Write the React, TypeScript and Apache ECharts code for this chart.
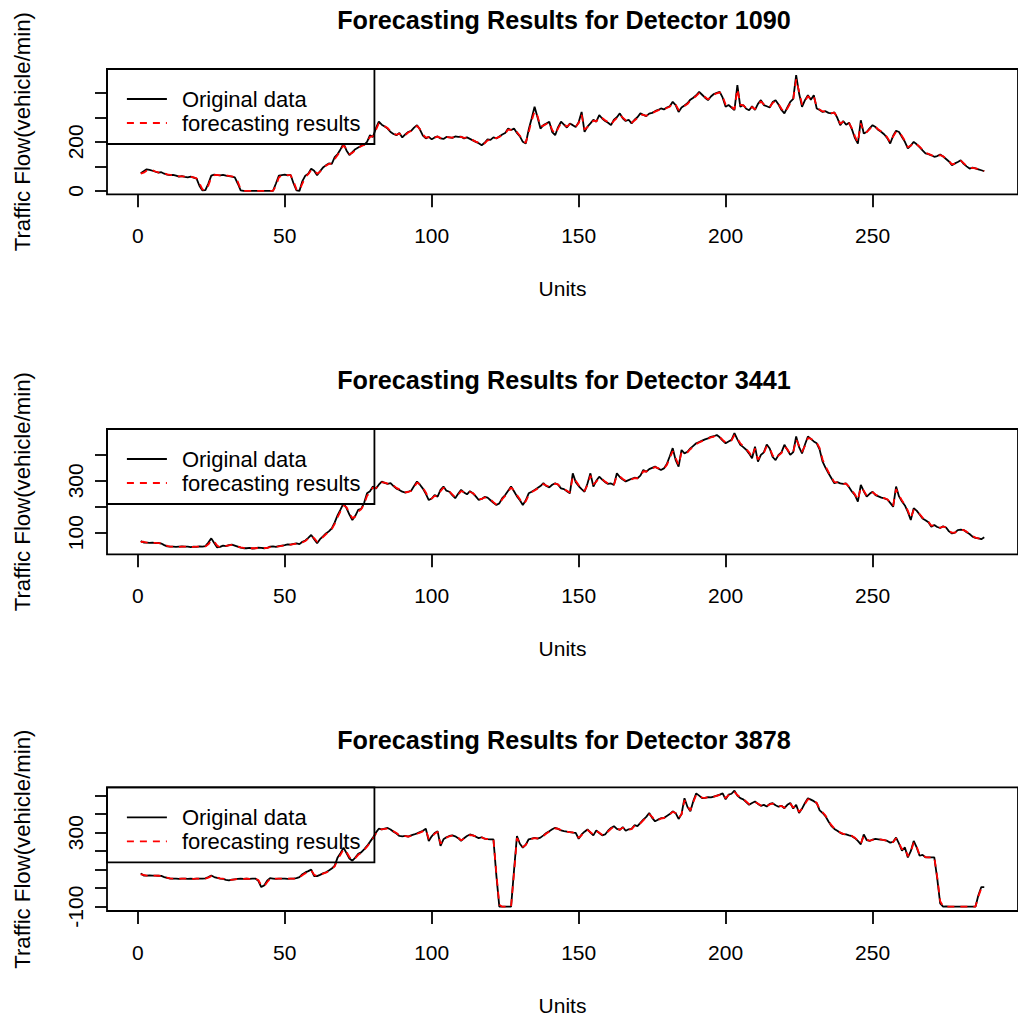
import React, { useEffect, useRef } from 'react';
import * as echarts from 'echarts';

const detectorIds = ['1090', '3441', '3878'];
const xTickValues = [0, 50, 100, 150, 200, 250];
const yTickValues = [
  [0, 100, 200, 300, 400],
  [100, 200, 300, 400],
  [-100, 0, 100, 200, 300, 400, 500],
];
const yLabelValues = [
  [0, 200],
  [100, 300],
  [-100, 300],
];

const original1090 = [
  72, 80, 88, 86, 82, 78, 74, 76, 70, 66, 64, 65,
  62, 58, 60, 57, 55, 58, 54, 50, 20, 2, 3, 30,
  62, 66, 64, 63, 65, 62, 60, 58, 55, 30, 2, 0,
  0, 0, 0, 0, 0, 0, 0, 0, 0, 0, 30, 62,
  64, 66, 63, 65, 30, 2, 0, 40, 62, 70, 90, 82,
  64, 80, 95, 104, 112, 110, 138, 150, 170, 193, 165, 146,
  158, 170, 177, 184, 188, 200, 227, 220, 255, 282, 270, 262,
  254, 240, 232, 227, 236, 218, 230, 240, 245, 258, 268, 250,
  225, 214, 220, 210, 218, 222, 214, 212, 220, 218, 216, 222,
  220, 221, 214, 218, 212, 206, 200, 194, 186, 196, 210, 208,
  218, 214, 222, 230, 236, 254, 248, 254, 236, 222, 200, 193,
  250, 295, 343, 300, 254, 268, 275, 282, 240, 227, 260, 282,
  270, 258, 275, 268, 260, 280, 322, 241, 262, 275, 290, 282,
  309, 295, 285, 278, 268, 290, 300, 316, 296, 285, 290, 275,
  290, 300, 316, 310, 305, 315, 318, 325, 330, 336, 332, 340,
  345, 363, 350, 322, 340, 348, 357, 372, 380, 390, 404, 392,
  380, 370, 385, 395, 400, 404, 380, 343, 350, 340, 329, 431,
  343, 350, 335, 329, 345, 330, 355, 370, 350, 345, 340, 362,
  370, 352, 330, 316, 340, 363, 375, 472, 397, 343, 370, 390,
  372, 390, 336, 330, 322, 325, 318, 316, 320, 298, 268, 285,
  270, 278, 250, 215, 193, 288, 234, 240, 255, 268, 260, 248,
  240, 230, 215, 193, 225, 245, 240, 220, 200, 173, 185, 200,
  190, 178, 165, 153, 150, 145, 139, 142, 148, 140, 130, 120,
  105, 112, 118, 125, 110, 100, 91, 95, 92, 88, 84, 80,
];
const forecast1090 = [
  70, 74, 82, 86, 84, 79, 75, 75, 72, 67, 65, 64,
  63, 59, 59, 58, 56, 57, 55, 51, 30, 6, 2, 22,
  55, 64, 65, 63, 64, 63, 61, 59, 56, 38, 6, 0,
  0, 0, 0, 0, 0, 0, 0, 0, 0, 0, 20, 55,
  63, 65, 64, 64, 38, 6, 1, 30, 56, 68, 85, 84,
  70, 78, 92, 102, 110, 111, 130, 146, 165, 186, 170, 150,
  155, 166, 175, 182, 187, 197, 220, 222, 248, 275, 272, 264,
  256, 243, 234, 229, 234, 222, 228, 238, 244, 255, 265, 252,
  230, 217, 219, 212, 217, 221, 216, 213, 219, 218, 217, 221,
  220, 220, 216, 217, 213, 207, 201, 196, 189, 194, 206, 208,
  216, 215, 220, 228, 234, 250, 249, 252, 240, 225, 205, 196,
  240, 285, 325, 305, 262, 266, 273, 280, 248, 232, 255, 276,
  272, 262, 272, 268, 262, 276, 310, 250, 260, 272, 286, 283,
  302, 297, 288, 280, 271, 286, 297, 310, 299, 288, 289, 278,
  287, 297, 311, 310, 306, 313, 317, 323, 328, 334, 333, 338,
  343, 358, 352, 330, 338, 346, 354, 368, 377, 387, 399, 393,
  383, 373, 383, 392, 398, 402, 385, 352, 350, 342, 333, 415,
  352, 349, 338, 332, 342, 333, 351, 365, 353, 346, 342, 358,
  366, 354, 335, 320, 336, 357, 372, 455, 405, 352, 366, 386,
  375, 386, 342, 332, 324, 324, 319, 317, 319, 302, 274, 282,
  272, 276, 255, 222, 198, 275, 240, 240, 252, 265, 261, 250,
  242, 232, 218, 198, 222, 241, 240, 224, 204, 178, 184, 197,
  191, 180, 168, 156, 151, 146, 141, 142, 146, 141, 132, 122,
  108, 111, 116, 123, 113, 102, 94, 94, 92, 89, 85, 81,
];

const original3441 = [
  68, 62, 62, 61, 62, 60, 61, 58, 52, 47, 46, 46,
  45, 46, 47, 46, 46, 44, 46, 45, 47, 46, 48, 62,
  78, 60, 43, 45, 50, 48, 52, 54, 50, 46, 42, 40,
  40, 41, 39, 40, 42, 41, 40, 41, 46, 47, 45, 48,
  50, 52, 55, 54, 57, 59, 56, 65, 70, 80, 91, 75,
  59, 75, 86, 97, 105, 117, 140, 168, 190, 213, 195, 170,
  149, 165, 188, 192, 215, 252, 260, 278, 270, 285, 297, 292,
  288, 291, 280, 270, 265, 258, 255, 258, 262, 280, 297, 285,
  270, 250, 226, 232, 245, 239, 265, 278, 262, 258, 245, 233,
  250, 265, 255, 248, 260, 252, 240, 226, 230, 238, 235, 225,
  215, 207, 213, 233, 245, 262, 278, 260, 240, 225, 207, 225,
  252, 258, 265, 272, 280, 291, 280, 275, 285, 291, 285, 271,
  268, 260, 252, 329, 295, 280, 268, 258, 290, 329, 278, 300,
  316, 305, 295, 288, 290, 284, 329, 315, 305, 298, 303, 308,
  312, 310, 320, 342, 335, 345, 350, 355, 348, 342, 348, 365,
  395, 426, 380, 355, 419, 406, 412, 425, 435, 445, 450, 455,
  460, 464, 470, 472, 477, 468, 455, 445, 452, 458, 484, 460,
  439, 430, 420, 405, 387, 432, 374, 400, 410, 440, 425, 392,
  380, 400, 410, 439, 420, 400, 411, 471, 430, 406, 440, 471,
  462, 452, 445, 420, 374, 350, 329, 310, 291, 295, 290, 288,
  290, 275, 258, 245, 220, 284, 260, 239, 250, 258, 245, 240,
  235, 232, 228, 215, 200, 278, 240, 220, 205, 180, 149, 194,
  185, 170, 155, 148, 140, 123, 130, 122, 118, 125, 120, 105,
  97, 100, 110, 112, 110, 102, 95, 85, 80, 78, 75, 82,
];
const forecast3441 = [
  64, 65, 62, 61, 61, 61, 60, 59, 54, 49, 46, 46,
  46, 45, 46, 46, 46, 45, 45, 46, 46, 46, 47, 55,
  70, 66, 50, 44, 48, 49, 51, 53, 51, 47, 43, 41,
  40, 40, 40, 40, 41, 41, 41, 41, 44, 46, 46, 47,
  49, 51, 54, 54, 56, 58, 57, 62, 68, 77, 87, 79,
  65, 72, 83, 94, 103, 114, 134, 160, 183, 205, 198, 177,
  156, 162, 182, 190, 210, 242, 256, 274, 272, 282, 294, 293,
  289, 290, 282, 273, 267, 260, 256, 257, 261, 276, 293, 287,
  274, 255, 232, 231, 242, 240, 260, 274, 265, 259, 248, 236,
  246, 261, 256, 250, 257, 253, 243, 230, 230, 236, 235, 228,
  218, 209, 212, 229, 242, 258, 274, 263, 245, 229, 211, 221,
  245, 256, 263, 270, 278, 288, 282, 277, 283, 289, 286, 274,
  269, 262, 255, 315, 300, 284, 271, 261, 284, 320, 286, 297,
  311, 307, 297, 290, 290, 285, 320, 317, 307, 300, 302, 306,
  310, 310, 318, 337, 336, 343, 348, 353, 349, 344, 347, 361,
  388, 415, 388, 362, 410, 406, 410, 422, 432, 442, 448, 453,
  458, 462, 468, 471, 475, 469, 458, 448, 451, 456, 477, 463,
  445, 433, 423, 410, 392, 425, 382, 398, 408, 434, 426, 398,
  385, 397, 407, 432, 422, 404, 410, 460, 436, 412, 435, 465,
  463, 454, 447, 426, 382, 356, 334, 314, 295, 294, 290, 288,
  289, 278, 262, 248, 226, 275, 262, 243, 248, 256, 247, 241,
  236, 233, 229, 218, 204, 268, 245, 224, 208, 185, 156, 188,
  185, 172, 158, 150, 142, 127, 129, 123, 119, 123, 120, 108,
  100, 100, 108, 111, 110, 104, 97, 87, 81, 78, 76, 80,
];

const original3878 = [
  80, 68, 68, 69, 68, 68, 67, 66, 60, 55, 52, 51,
  51, 50, 51, 52, 50, 51, 50, 51, 52, 51, 53, 60,
  68, 60, 55, 52, 50, 45, 42, 46, 48, 50, 51, 50,
  51, 50, 51, 52, 40, 6, 15, 40, 54, 52, 50, 51,
  51, 52, 50, 51, 52, 54, 60, 75, 85, 92, 100, 65,
  65, 72, 80, 86, 95, 106, 122, 166, 190, 219, 190, 160,
  148, 165, 185, 193, 210, 228, 250, 273, 300, 321, 318, 322,
  325, 317, 305, 295, 282, 280, 282, 278, 285, 290, 296, 303,
  310, 321, 255, 280, 298, 308, 228, 264, 275, 282, 285, 280,
  270, 255, 270, 282, 290, 285, 278, 270, 275, 267, 265, 264,
  264, 68, -100, -100, -100, -100, -100, 95, 281, 240, 219, 235,
  264, 268, 272, 268, 273, 285, 298, 308, 318, 326, 320, 312,
  308, 305, 303, 300, 299, 267, 290, 305, 317, 300, 285, 312,
  298, 285, 290, 310, 325, 335, 320, 315, 330, 310, 318, 320,
  340, 335, 353, 370, 385, 406, 380, 361, 370, 378, 379, 390,
  400, 415, 405, 374, 400, 486, 440, 415, 470, 512, 500, 486,
  488, 492, 490, 495, 500, 505, 512, 480, 505, 510, 527, 500,
  486, 480, 465, 450, 460, 468, 455, 445, 450, 441, 455, 459,
  448, 440, 445, 432, 450, 460, 430, 450, 406, 430, 460, 486,
  478, 470, 459, 420, 406, 388, 360, 335, 320, 310, 299, 292,
  290, 285, 281, 270, 255, 237, 290, 260, 255, 262, 266, 264,
  262, 260, 255, 246, 250, 273, 240, 202, 220, 166, 200, 255,
  220, 175, 180, 166, 166, 166, 166, 51, -82, -100, -98, -100,
  -100, -100, -100, -100, -100, -100, -100, -100, -100, -38, 6, 6,
];
const forecast3878 = [
  75, 72, 68, 68, 68, 68, 67, 66, 62, 57, 53, 51,
  51, 51, 51, 51, 51, 51, 50, 51, 51, 51, 52, 57,
  65, 63, 57, 53, 51, 47, 44, 45, 47, 49, 50, 50,
  51, 50, 51, 51, 44, 15, 10, 32, 50, 53, 51, 51,
  51, 51, 51, 51, 51, 53, 58, 70, 80, 88, 96, 72,
  66, 70, 78, 84, 92, 103, 118, 155, 182, 210, 196, 168,
  152, 162, 180, 190, 206, 224, 245, 268, 294, 316, 318, 320,
  322, 318, 308, 298, 286, 281, 281, 279, 283, 288, 294, 300,
  307, 317, 265, 276, 294, 305, 240, 258, 272, 280, 284, 281,
  273, 259, 267, 279, 287, 285, 279, 272, 274, 268, 265, 264,
  264, 80, -90, -100, -100, -100, -100, 80, 270, 245, 222, 233,
  258, 266, 270, 269, 272, 282, 295, 305, 315, 323, 321, 314,
  309, 306, 303, 301, 299, 272, 286, 302, 314, 303, 289, 308,
  300, 288, 289, 306, 321, 332, 323, 316, 327, 313, 316, 319,
  336, 335, 350, 366, 381, 400, 385, 365, 368, 376, 379, 388,
  398, 412, 406, 380, 398, 475, 445, 420, 465, 505, 502, 489,
  488, 491, 490, 494, 499, 504, 510, 486, 502, 508, 520, 503,
  490, 482, 468, 454, 458, 465, 457, 447, 449, 443, 452, 457,
  450, 442, 444, 434, 447, 457, 435, 447, 412, 428, 455, 480,
  479, 472, 461, 426, 410, 392, 365, 340, 323, 312, 301, 293,
  290, 286, 282, 272, 258, 241, 283, 263, 256, 261, 265, 264,
  262, 260, 256, 248, 249, 270, 245, 210, 218, 172, 196, 248,
  225, 180, 180, 168, 166, 166, 166, 60, -70, -98, -100, -100,
  -100, -100, -100, -100, -100, -100, -100, -100, -100, -45, 0, 6,
];

const originals = [original1090, original3441, original3878];
const forecasts = [forecast1090, forecast3441, forecast3878];

const FONT = '"Liberation Sans", Arial, sans-serif';
const panelTops = [69, 429, 787.3];
const panelHeight = 125.3;
const titleTops = [7, 367, 727];
const yRanges = [
  [-14, 497],
  [16.6, 500],
  [-123.4, 544.8],
];
const LW = 1.8;

function toPairs(values: number[]) {
  return values.map((v, i) => [i + 1, v]);
}

export default function App() {
  const ref = useRef<HTMLDivElement>(null);
  useEffect(() => {
    if (!ref.current) return;
    const chart = echarts.init(ref.current, null, { renderer: 'svg' });
    const grids: any[] = [];
    const xAxes: any[] = [];
    const yAxes: any[] = [];
    const series: any[] = [];
    const titles: any[] = [];
    const legends: any[] = [];
    for (let p = 0; p < 3; p++) {
      grids.push({
        left: 107,
        width: 921,
        top: panelTops[p],
        height: panelHeight,
        show: true,
        borderColor: '#000',
        borderWidth: LW,
        backgroundColor: 'transparent',
      });
      titles.push({
        text: `Forecasting Results for Detector ${detectorIds[p]}`,
        left: 564,
        top: titleTops[p],
        textAlign: 'center',
        padding: 0,
        textStyle: { fontFamily: FONT, fontSize: 25.2, fontWeight: 'bold', color: '#000' },
      });
      xAxes.push({
        type: 'value',
        gridIndex: p,
        min: -10.48,
        max: 299.48,
        name: 'Units',
        nameLocation: 'middle',
        nameGap: 84,
        nameTextStyle: { fontFamily: FONT, fontSize: 21, color: '#000' },
        axisLine: { show: false, onZero: false },
        splitLine: { show: false },
        axisTick: {
          show: true,
          inside: false,
          length: 13,
          customValues: xTickValues,
          lineStyle: { color: '#000', width: LW },
        },
        axisLabel: {
          customValues: xTickValues,
          margin: 31,
          fontFamily: FONT,
          fontSize: 21,
          color: '#000',
        },
      });
      yAxes.push({
        type: 'value',
        gridIndex: p,
        min: yRanges[p][0],
        max: yRanges[p][1],
        name: 'Traffic Flow(vehicle/min)',
        nameLocation: 'middle',
        nameRotate: 90,
        nameGap: 74,
        nameTextStyle: { fontFamily: FONT, fontSize: 22.2, color: '#000' },
        axisLine: { show: false, onZero: false },
        splitLine: { show: false },
        axisTick: {
          show: true,
          inside: false,
          length: 12,
          customValues: yTickValues[p],
          lineStyle: { color: '#000', width: LW },
        },
        axisLabel: {
          customValues: yLabelValues[p],
          rotate: 90,
          margin: 21,
          fontFamily: FONT,
          fontSize: 21,
          color: '#000',
        },
      });
      series.push({
        name: 'Original data',
        type: 'line',
        xAxisIndex: p,
        yAxisIndex: p,
        data: toPairs(originals[p]),
        symbol: 'none',
        showSymbol: false,
        lineStyle: { color: '#000', width: LW },
        itemStyle: { color: '#000' },
        z: 2,
      });
      series.push({
        name: 'forecasting results',
        type: 'line',
        xAxisIndex: p,
        yAxisIndex: p,
        data: toPairs(forecasts[p]),
        symbol: 'none',
        showSymbol: false,
        lineStyle: { color: '#ff0000', width: LW, type: [7, 6] },
        itemStyle: { color: '#ff0000' },
        z: 3,
      });
      legends.push({
        orient: 'vertical',
        left: 107,
        top: panelTops[p],
        padding: [18, 14, 9, 19],
        borderColor: '#000',
        borderWidth: LW,
        borderRadius: 0,
        backgroundColor: 'transparent',
        itemWidth: 40,
        itemHeight: 14,
        itemGap: 0,
        selectedMode: false,
        itemStyle: { color: 'rgba(0,0,0,0)', borderWidth: 0, opacity: 0 },
        data: [
          { name: 'Original data', lineStyle: { color: '#000', width: LW, type: 'solid' } },
          { name: 'forecasting results', lineStyle: { color: '#ff0000', width: LW, type: [7, 6] } },
        ],
        textStyle: {
          fontFamily: FONT,
          fontSize: 22,
          lineHeight: 24,
          color: '#000',
          padding: [0, 0, 0, 10],
        },
      });
    }
    chart.setOption({
      animation: false,
      backgroundColor: '#fff',
      title: titles,
      legend: legends,
      grid: grids,
      xAxis: xAxes,
      yAxis: yAxes,
      series,
    });
    return () => chart.dispose();
  }, []);
  return (
    <div
      ref={ref}
      style={{ position: 'fixed', left: 0, top: 0, width: 1018, height: 1017 }}
    />
  );
}
